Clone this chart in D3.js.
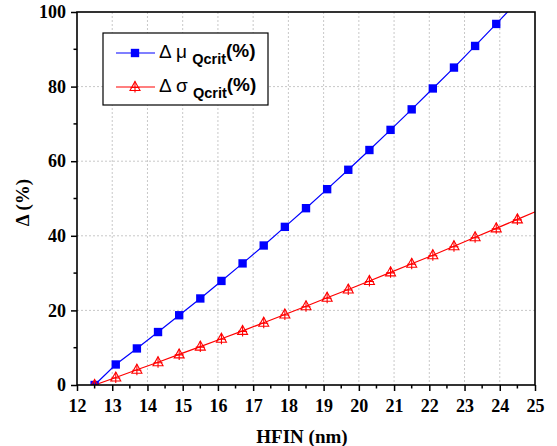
<!DOCTYPE html>
<html>
  <head>
    <meta charset="utf-8" />
    <title>Delta vs HFIN</title>
    <style>
      body { margin: 0; background: #fff; }
      svg { display: block; }
    </style>
  </head>
  <body>
    <svg id="chart"></svg>
    <script src="https://cdn.jsdelivr.net/npm/d3@7"></script>
    <script>
      const width = 557;
      const height = 446;

      // HFIN (nm)
      const hfin = [12.5, 13.1, 13.7, 14.3, 14.9, 15.5, 16.1, 16.7, 17.3, 17.9, 18.5,
        19.1, 19.7, 20.3, 20.9, 21.5, 22.1, 22.7, 23.3, 23.9, 24.5, 25.1];
      // delta mu Qcrit (%)
      const muValues = [0, 5.5, 9.8, 14.2, 18.7, 23.2, 27.9, 32.6, 37.4, 42.4, 47.4,
        52.5, 57.7, 63.0, 68.4, 73.9, 79.5, 85.1, 90.9, 96.8, 102.8, 108.9];
      // delta sigma Qcrit (%)
      const sigmaValues = [0, 2.0, 4.1, 6.1, 8.2, 10.3, 12.4, 14.5, 16.7, 18.9, 21.1,
        23.4, 25.6, 27.9, 30.2, 32.5, 34.8, 37.2, 39.6, 42.0, 44.4, 46.8];
      const xTicks = [12, 13, 14, 15, 16, 17, 18, 19, 20, 21, 22, 23, 24, 25];
      const yTicks = [0, 20, 40, 60, 80, 100];

      const serif = "'Liberation Serif', 'Times New Roman', serif";
      const sans = "'Liberation Sans', Arial, sans-serif";

      const margin = { top: 12, right: 22, bottom: 61, left: 77 };
      const innerW = width - margin.left - margin.right;
      const innerH = height - margin.top - margin.bottom;

      const svg = d3.select("#chart").attr("width", width).attr("height", height);
      const g = svg.append("g").attr("transform", `translate(${margin.left},${margin.top})`);

      const x = d3.scaleLinear().domain([12, 25]).range([0, innerW]);
      const y = d3.scaleLinear().domain([0, 100]).range([innerH, 0]);

      // grid
      g.append("g").selectAll("line").data(xTicks.slice(1, -1)).join("line")
        .attr("x1", d => x(d)).attr("x2", d => x(d)).attr("y1", 0).attr("y2", innerH)
        .attr("stroke", "#c8c8c8").attr("stroke-dasharray", "2,2");
      g.append("g").selectAll("line").data(yTicks.slice(1, -1)).join("line")
        .attr("y1", d => y(d)).attr("y2", d => y(d)).attr("x1", 0).attr("x2", innerW)
        .attr("stroke", "#c8c8c8").attr("stroke-dasharray", "2,2");

      // clip
      svg.append("defs").append("clipPath").attr("id", "clip")
        .append("rect").attr("width", innerW).attr("height", innerH);

      const plot = g.append("g").attr("clip-path", "url(#clip)");

      const muData = hfin.map((h, i) => [h, muValues[i]]);
      const sigmaData = hfin.map((h, i) => [h, sigmaValues[i]]);

      const line = d3.line().x(d => x(d[0])).y(d => y(d[1]));

      plot.append("path").datum(muData).attr("d", line)
        .attr("fill", "none").attr("stroke", "#0000ff").attr("stroke-width", 1.2);
      plot.append("path").datum(sigmaData).attr("d", line)
        .attr("fill", "none").attr("stroke", "#ff0000").attr("stroke-width", 1.2);

      const square = d3.symbol().type(d3.symbolSquare).size(70);

      function triCross(sel, color) {
        sel.append("path")
          .attr("d", "M0,-5.5 L5,3.5 L-5,3.5 Z")
          .attr("fill", "none").attr("stroke", color).attr("stroke-width", 1.1);
        sel.append("path")
          .attr("d", "M0,-5.5 V5.5 M-4.5,0.5 H4.5")
          .attr("fill", "none").attr("stroke", color).attr("stroke-width", 1.1);
      }

      plot.append("g").selectAll("path").data(muData.filter(d => d[1] <= 100)).join("path")
        .attr("transform", d => `translate(${x(d[0])},${y(d[1])})`)
        .attr("d", square).attr("fill", "#0000ff");

      plot.append("g").selectAll("g").data(sigmaData.filter(d => d[0] <= 25)).join("g")
        .attr("transform", d => `translate(${x(d[0])},${y(d[1])})`)
        .each(function () { triCross(d3.select(this), "#ff0000"); });

      // axes
      const xAxis = g.append("g").attr("transform", `translate(0,${innerH})`)
        .call(d3.axisBottom(x).tickValues(xTicks).tickFormat(d3.format("d")).tickSize(6).tickPadding(6));
      const yAxis = g.append("g")
        .call(d3.axisLeft(y).tickValues(yTicks).tickFormat(d3.format("d")).tickSize(6).tickPadding(5));
      [xAxis, yAxis].forEach(a => {
        a.select(".domain").remove();
        a.selectAll(".tick line").attr("stroke", "#000").attr("stroke-width", 1.5);
        a.selectAll(".tick text").attr("fill", "#000")
          .style("font-family", serif).style("font-size", "18px").style("font-weight", "bold");
      });
      xAxis.selectAll(".tick text").attr("dy", "0.85em");

      // minor ticks
      const xMinor = d3.range(12.5, 25, 1);
      g.append("g").selectAll("line").data(xMinor).join("line")
        .attr("x1", d => x(d)).attr("x2", d => x(d)).attr("y1", innerH).attr("y2", innerH + 3.5)
        .attr("stroke", "#000").attr("stroke-width", 1.5);
      const yMinor = d3.range(10, 100, 20);
      g.append("g").selectAll("line").data(yMinor).join("line")
        .attr("y1", d => y(d)).attr("y2", d => y(d)).attr("x1", 0).attr("x2", -3.5)
        .attr("stroke", "#000").attr("stroke-width", 1.5);

      // frame
      g.append("rect").attr("width", innerW).attr("height", innerH)
        .attr("fill", "none").attr("stroke", "#000").attr("stroke-width", 1.6);

      // axis labels
      svg.append("text")
        .attr("x", margin.left + innerW / 2 - 4).attr("y", 443)
        .attr("text-anchor", "middle")
        .style("font-family", serif).style("font-weight", "bold").style("font-size", "19px")
        .text("HFIN (nm)");
      svg.append("text")
        .attr("transform", `translate(29,${margin.top + innerH / 2 + 4}) rotate(-90)`)
        .attr("text-anchor", "middle")
        .style("font-family", serif).style("font-weight", "bold").style("font-size", "19px")
        .text("Δ (%)");

      // legend
      const lg = svg.append("g").attr("transform", "translate(103,33)");
      lg.append("rect").attr("width", 165).attr("height", 72)
        .attr("fill", "#fff").attr("stroke", "#000").attr("stroke-width", 1.2);

      const legendItems = [
        { sym: "μ", color: "#0000ff", y: 20, kind: "square" },
        { sym: "σ", color: "#ff0000", y: 54, kind: "tri" }
      ];
      legendItems.forEach(item => {
        const row = lg.append("g").attr("transform", `translate(0,${item.y})`);
        row.append("line").attr("x1", 13).attr("x2", 52).attr("stroke", item.color).attr("stroke-width", 1.2);
        const m = row.append("g").attr("transform", "translate(32,0)");
        if (item.kind === "square") m.append("path").attr("d", square).attr("fill", item.color);
        else triCross(m, item.color);
        const t = row.append("text").attr("x", 56).attr("y", 5)
          .style("font-family", sans).style("font-size", "19px").attr("fill", "#000");
        t.append("tspan").text("Δ " + item.sym + " ");
        t.append("tspan").attr("dy", 6).style("font-size", "14.5px").style("font-weight", "bold").text("Qcrit");
        t.append("tspan").attr("dy", -7).style("font-weight", "bold").style("font-size", "19px").text("(%)");
      });
    </script>
  </body>
</html>
